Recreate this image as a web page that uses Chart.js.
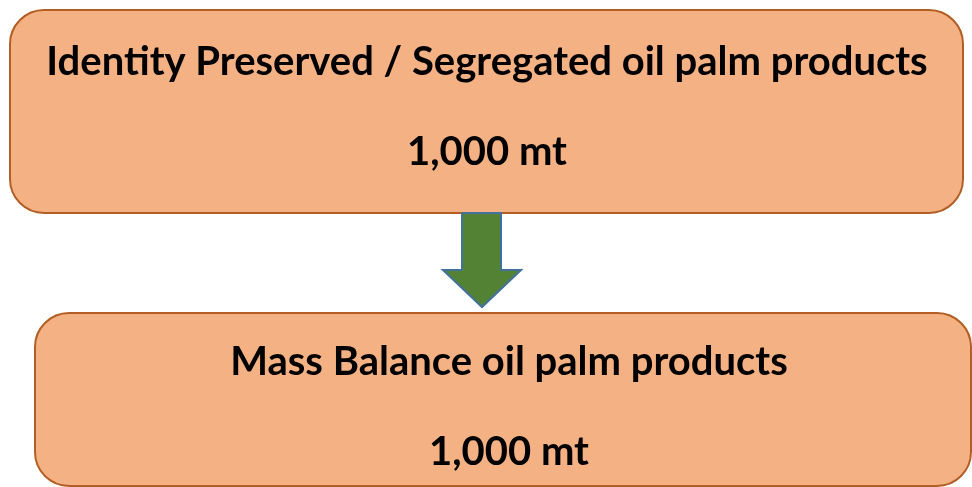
<!DOCTYPE html>
<html lang="en">
<head>
    <meta charset="UTF-8">
    <title>Oil palm products</title>
    <script src="https://cdn.jsdelivr.net/npm/chart.js"></script>
    <style>
        html, body { margin: 0; padding: 0; background: #ffffff; }
        #wrap { width: 972px; height: 487px; }
    </style>
</head>
<body>
    <div id="wrap">
        <canvas id="myChart"></canvas>
    </div>

<script>
    // the two boxes and their amounts
    var boxTitles = ["Identity Preserved / Segregated oil palm products", "Mass Balance oil palm products"];
    var boxAmounts = [1000, 1000];
    var boxUnit = "mt";

    // layout of the boxes in page pixels (left, right, top, bottom)
    var boxLeft = [10, 35];
    var boxRight = [963, 971];
    var boxTop = [10, 313];
    var boxBottom = [213, 486];
    // the bottom box runs past the right edge, so its text sits a bit to the right
    var textCenter = [487, 509];

    // arrow outline, page pixels
    var arrowX = [462, 501, 501, 521, 482, 443, 462];
    var arrowY = [213, 213, 270, 270, 307, 270, 270];

    function f_amount(v){
        return v.toLocaleString("en-US") + " " + boxUnit;
    }

    const boxPlugin = {
        id: "boxPlugin",
        beforeDatasetsDraw(chart){
            var c = chart.ctx;
            var sx = chart.scales.x, sy = chart.scales.y;
            for(var i=0; i<boxTitles.length; i++){
                var x0 = sx.getPixelForValue(boxLeft[i]);
                var x1 = sx.getPixelForValue(boxRight[i]);
                var y0 = sy.getPixelForValue(boxTop[i]);
                var y1 = sy.getPixelForValue(boxBottom[i]);
                c.save();
                c.beginPath();
                c.roundRect(x0, y0, x1 - x0, y1 - y0, 34);
                c.fillStyle = "#F4B183";
                c.fill();
                c.lineWidth = 2;
                c.strokeStyle = "#B25E24";
                c.stroke();

                var cx = sx.getPixelForValue(textCenter[i]);
                c.fillStyle = "#000000";
                c.font = "bold 40px Lato";
                c.textAlign = "center";
                c.textBaseline = "middle";
                var offs = i == 0 ? [52, 142] : [49, 139];
                c.fillText(boxTitles[i], cx, y0 + offs[0]);
                c.fillText(f_amount(boxAmounts[i]), cx, y0 + offs[1]);
                c.restore();
            }
        }
    };

    var arrowPts = arrowX.map(function(x, i){ return {x: x, y: arrowY[i]}; });

    const ctx = document.getElementById('myChart').getContext('2d');
    const myChart = new Chart(ctx, {
        type: 'line',
        data: {
            datasets: [{
                label: 'arrow',
                data: arrowPts,
                backgroundColor: '#548235',
                borderColor: '#41719C',
                borderWidth: 2,
                pointRadius: 0,
                tension: 0,
                fill: 'shape'
            }]
        },
        options: {
            animation: false,
            responsive: true,
            maintainAspectRatio: false,
            layout: { padding: 0 },
            plugins: {
                legend: { display: false },
                tooltip: { enabled: false },
                filler: { propagate: false }
            },
            scales: {
                x: { type: 'linear', min: 0, max: 972, display: false },
                y: { type: 'linear', min: 0, max: 487, reverse: true, display: false }
            }
        },
        plugins: [boxPlugin, {
            id: 'closeArrow',
            afterDatasetsDraw(chart){
                // close the outline of the arrow back to its first point
                var meta = chart.getDatasetMeta(0);
                var p = meta.data;
                var c = chart.ctx;
                c.save();
                c.beginPath();
                c.moveTo(p[p.length-1].x, p[p.length-1].y);
                c.lineTo(p[0].x, p[0].y);
                c.strokeStyle = '#41719C';
                c.lineWidth = 2;
                c.stroke();
                c.restore();
            }
        }]
    });
</script>
</body>
</html>
